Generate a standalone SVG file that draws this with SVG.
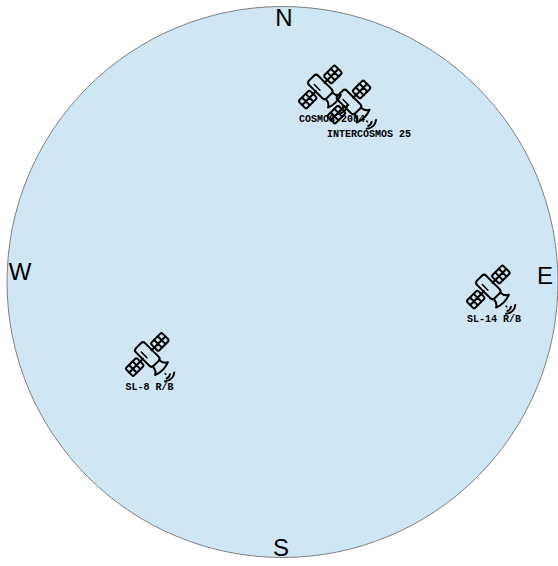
<svg xmlns="http://www.w3.org/2000/svg" width="558" height="566" viewBox="0 0 558 566">
<style>
.dir{font-family:"Liberation Sans",Arial,sans-serif;font-size:24px;fill:#000}
.lbl{font-family:"Liberation Mono","Courier New",monospace;font-size:10px;font-weight:bold;fill:#000}
.ic{fill:none;stroke:#000;stroke-width:2;stroke-linejoin:round;stroke-linecap:round}
.icn{fill:none;stroke:#000;stroke-width:1.5;stroke-linecap:round}
</style>
<defs>
<g id="sat">
<g transform="rotate(-45)">
<rect x="-6.500" y="-12.500" width="13" height="25" rx="3" class="ic"/>
<path d="M-2.500 -6V2" class="icn"/>
<path d="M6 0H10M-6 0H-10" class="ic"/>
<g class="ic"><rect x="10" y="-5.500" width="15.500" height="11" rx="1.500"/><path d="M15.200 -5.500V5.500M20.300 -5.500V5.500M10 0H25.500"/></g>
<g class="ic"><rect x="-25.500" y="-5.500" width="15.500" height="11" rx="1.500"/><path d="M-20.300 -5.500V5.500M-15.200 -5.500V5.500M-25.500 0H-10"/></g>
<path d="M-4.500 12.500Q-5 18 -9 20Q0 23.500 9 20Q5 18 4.500 12.500" class="ic"/>
</g>
<path d="M17.700 19l.8 .8" class="icn"/>
<path d="M19.300 24a6 6 0 0 0 3.400 -4.300M17.700 26.700a9.500 9.500 0 0 0 9.300 -8.700" class="ic"/>
</g>
</defs>
<g id="sky"><circle cx="282.500" cy="282" r="275.500" fill="#cfe6f5" stroke="#808080" stroke-width="1"/></g>
<g id="connectors"></g>
<g id="north"><text class="dir" x="284" y="26" text-anchor="middle">N</text></g>
<g id="south"><text class="dir" x="281" y="556" text-anchor="middle">S</text></g>
<g id="east"><text class="dir" x="545" y="284" text-anchor="middle">E</text></g>
<g id="west"><text class="dir" x="20" y="280" text-anchor="middle">W</text></g>
<g id="cosmos"><use href="#sat" x="320.300" y="87"/><text class="lbl" x="299" y="122">COSMOS 2084</text></g>
<g id="intercosmos"><use href="#sat" x="349" y="102"/><text class="lbl" x="327" y="137">INTERCOSMOS 25</text></g>
<g id="sl14"><use href="#sat" x="488.300" y="287"/><text class="lbl" x="467" y="322">SL-14 R/B</text></g>
<g id="sl8"><use href="#sat" x="147.300" y="354.500"/><text class="lbl" x="125.500" y="390">SL-8 R/B</text></g>
</svg>
